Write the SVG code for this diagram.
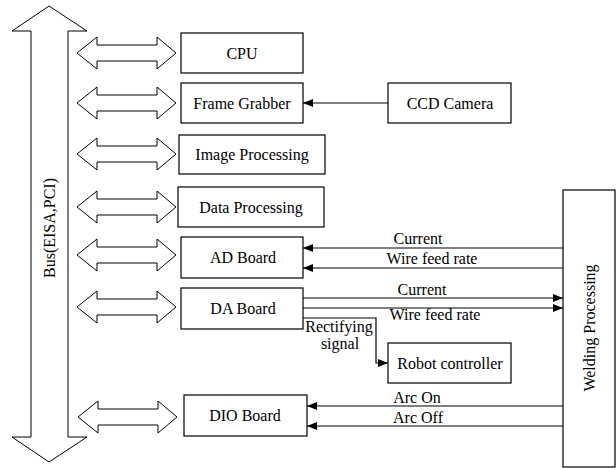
<svg xmlns="http://www.w3.org/2000/svg" width="616" height="468" viewBox="0 0 616 468">
<defs>
<style>
.box{fill:#fff;stroke:#000;stroke-width:1.2}
.shape{fill:#fff;stroke:#000;stroke-width:1}
.t{font-family:'Liberation Serif','DejaVu Serif',serif;font-size:16px;fill:#000;text-anchor:middle}
.c{fill:none;stroke:#000;stroke-width:1.2}
</style>
<marker id="ah" viewBox="0 0 10 8" refX="10" refY="4" markerWidth="10" markerHeight="8" markerUnits="userSpaceOnUse" orient="auto">
<path d="M0,0 L10,4 L0,8 Z" fill="#000"/>
</marker>
<path id="dbl" d="M77,0 L97,-16 L97,-8 L157,-8 L157,-16 L176,0 L157,16 L157,8 L97,8 L97,16 Z"/>
</defs>
<rect width="616" height="468" fill="#fff"/>

<g id="bus">
<path class="shape" d="M49,6 L87,31 L68,31 L68,437 L87,437 L49,462 L12,437 L31,437 L31,31 L12,31 Z"/>
<text class="t" font-family="Liberation Serif" transform="translate(55,228) rotate(-90)">Bus(EISA,PCI)</text>
</g>

<g id="bus-links">
<use href="#dbl" class="shape" transform="translate(0,53)"/>
<use href="#dbl" class="shape" transform="translate(0,103)"/>
<use href="#dbl" class="shape" transform="translate(0,154)"/>
<use href="#dbl" class="shape" transform="translate(0,207)"/>
<use href="#dbl" class="shape" transform="translate(0,255)"/>
<use href="#dbl" class="shape" transform="translate(0,307)"/>
<use href="#dbl" class="shape" transform="translate(1,417)"/>
</g>

<g id="cpu">
<rect class="box" x="181" y="33" width="122" height="40"/>
<text class="t" x="242" y="59">CPU</text>
</g>
<g id="frame-grabber">
<rect class="box" x="181" y="83" width="122" height="40"/>
<text class="t" x="242" y="109">Frame Grabber</text>
</g>
<g id="ccd-camera">
<rect class="box" x="388" y="83" width="123" height="40"/>
<text class="t" x="450" y="109">CCD Camera</text>
</g>
<g id="image-processing">
<rect class="box" x="179" y="135" width="146" height="39"/>
<text class="t" x="252" y="160">Image Processing</text>
</g>
<g id="data-processing">
<rect class="box" x="178" y="187" width="146" height="40"/>
<text class="t" x="251" y="213">Data Processing</text>
</g>
<g id="ad-board">
<rect class="box" x="181" y="237" width="122" height="41"/>
<text class="t" x="243" y="263">AD Board</text>
</g>
<g id="da-board">
<rect class="box" x="181" y="288" width="122" height="41"/>
<text class="t" x="243" y="314">DA Board</text>
</g>
<g id="robot-controller">
<rect class="box" x="388" y="343" width="123" height="40"/>
<text class="t" x="450" y="369">Robot controller</text>
</g>
<g id="dio-board">
<rect class="box" x="184" y="395" width="123" height="41"/>
<text class="t" x="245" y="421">DIO Board</text>
</g>
<g id="welding-processing">
<rect class="box" x="563" y="190" width="52" height="277"/>
<text class="t" transform="translate(595,328) rotate(-90)">Welding Processing</text>
</g>

<g id="connectors">
<line class="c" x1="388" y1="103" x2="303" y2="103" marker-end="url(#ah)"/>
<line class="c" x1="563" y1="248" x2="303" y2="248" marker-end="url(#ah)"/>
<line class="c" x1="563" y1="268" x2="303" y2="268" marker-end="url(#ah)"/>
<line class="c" x1="303" y1="298" x2="563" y2="298" marker-end="url(#ah)"/>
<line class="c" x1="303" y1="308" x2="563" y2="308" marker-end="url(#ah)"/>
<polyline class="c" points="303,318 376,318 376,363 388,363" marker-end="url(#ah)"/>
<line class="c" x1="563" y1="406" x2="307" y2="406" marker-end="url(#ah)"/>
<line class="c" x1="563" y1="426" x2="307" y2="426" marker-end="url(#ah)"/>
<text class="t" x="418" y="244">Current</text>
<text class="t" x="432" y="264">Wire feed rate</text>
<text class="t" x="422" y="295">Current</text>
<text class="t" x="435" y="320">Wire feed rate</text>
<text class="t" x="339" y="332">Rectifying</text>
<text class="t" x="340" y="349">signal</text>
<text class="t" x="417" y="403">Arc On</text>
<text class="t" x="418" y="423">Arc Off</text>
</g>
</svg>
